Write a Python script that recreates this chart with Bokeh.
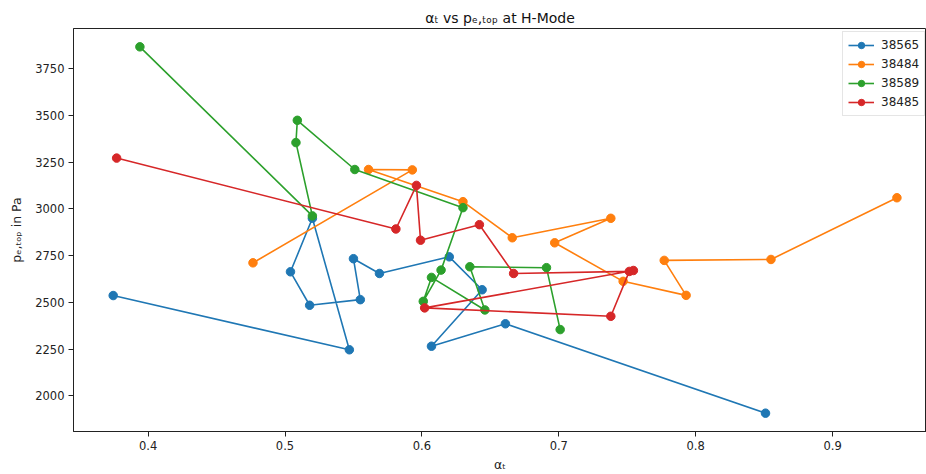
from bokeh.plotting import figure
from bokeh.models import Range1d, FixedTicker, Legend, LegendItem
from bokeh.embed import file_html
from bokeh.resources import INLINE

# ---- data ----
series_names = ["38565", "38484", "38589", "38485"]

x_38565 = [0.3745, 0.547, 0.520, 0.504, 0.518, 0.555, 0.550, 0.569, 0.620, 0.644, 0.607, 0.661, 0.851]
y_38565 = [2537, 2247, 2950, 2664, 2485, 2515, 2734, 2655, 2744, 2568, 2266, 2386, 1908]

x_38484 = [0.4766, 0.593, 0.561, 0.630, 0.666, 0.738, 0.697, 0.747, 0.793, 0.777, 0.855, 0.947]
y_38484 = [2712, 3209, 3211, 3039, 2846, 2950, 2819, 2613, 2538, 2725, 2730, 3060]

x_38589 = [0.394, 0.520, 0.508, 0.509, 0.551, 0.630, 0.614, 0.601, 0.607, 0.646, 0.635, 0.691, 0.701]
y_38589 = [3867, 2963, 3355, 3474, 3211, 3007, 2673, 2506, 2634, 2460, 2691, 2686, 2355]

x_38485 = [0.377, 0.581, 0.596, 0.599, 0.642, 0.667, 0.7515, 0.738, 0.602, 0.7545]
y_38485 = [3272, 2893, 3126, 2833, 2916, 2655, 2666, 2426, 2471, 2671]

x_ticks = [0.4, 0.5, 0.6, 0.7, 0.8, 0.9]
y_ticks = [2000, 2250, 2500, 2750, 3000, 3250, 3500, 3750]

colors = ["#1f77b4", "#ff7f0e", "#2ca02c", "#d62728"]
xs = [x_38565, x_38484, x_38589, x_38485]
ys = [y_38565, y_38484, y_38589, y_38485]

FONT = "DejaVu Sans"

p = figure(width=926, height=474, output_backend="svg", toolbar_location=None,
           x_range=Range1d(0.3455, 0.9686), y_range=Range1d(1810, 3965),
           title="αₜ vs pₑ,ₜₒₚ at H-Mode",
           min_border_left=73, min_border_right=0, min_border_top=28, min_border_bottom=42)

p.background_fill_color = "white"
p.border_fill_color = "white"
p.outline_line_color = "#222222"
p.outline_line_width = 1
p.xgrid.visible = False
p.ygrid.visible = False

p.title.align = "center"
p.title.text_font = FONT
p.title.text_font_size = "14px"
p.title.text_font_style = "normal"
p.title.text_color = "#111111"
p.title.offset = 0
p.title.standoff = 6

for ax in (p.xaxis[0], p.yaxis[0]):
    ax.major_label_text_font = FONT
    ax.major_label_text_font_size = "11.5px"
    ax.major_label_text_color = "#222222"
    ax.axis_label_text_font = FONT
    ax.axis_label_text_font_size = "12.5px"
    ax.axis_label_text_font_style = "normal"
    ax.axis_label_text_color = "#222222"
    ax.axis_line_color = "#222222"
    ax.major_tick_line_color = "#222222"
    ax.major_tick_out = 5
    ax.major_tick_in = 0
    ax.minor_tick_line_color = None
    ax.major_label_standoff = 4

p.xaxis[0].ticker = FixedTicker(ticks=x_ticks)
p.yaxis[0].ticker = FixedTicker(ticks=y_ticks)
p.xaxis[0].axis_label = "αₜ"
p.yaxis[0].axis_label = "pₑ,ₜₒₚ in Pa"
p.xaxis[0].axis_label_standoff = 4
p.yaxis[0].axis_label_standoff = 8

items = []
for name, x, y, c in zip(series_names, xs, ys, colors):
    r1 = p.line(x, y, line_color=c, line_width=1.6)
    r2 = p.scatter(x, y, marker="circle", size=8.5, fill_color=c, line_color=c)
    items.append(LegendItem(label=name, renderers=[r1, r2]))

legend = Legend(items=items, location=(769, 315))
legend.label_text_font = FONT
legend.label_text_font_size = "12px"
legend.label_text_color = "#222222"
legend.border_line_color = "#cccccc"
legend.border_line_width = 1
legend.background_fill_alpha = 0.8
legend.margin = 0
legend.padding = 5
legend.spacing = 3
legend.glyph_width = 26
legend.glyph_height = 16
legend.label_height = 16
legend.label_standoff = 7
p.add_layout(legend)

open("out.html", "w").write(file_html(p, INLINE))
